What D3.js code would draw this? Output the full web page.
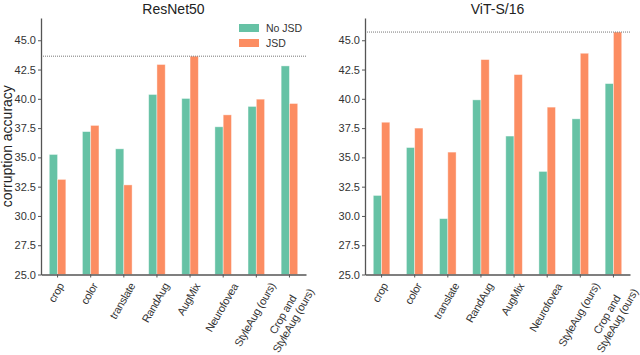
<!DOCTYPE html>
<html>
<body style="margin:0">
    <style>
        body {
            font-family: "Liberation Sans", Arial, sans-serif;
            background: #fff;
        }
        .tick text { fill: #333; }
    </style>
    <div class="container"></div>

    <script src="https://d3js.org/d3.v7.min.js"></script>

    <script>

var categories = ["crop", "color", "translate", "RandAug", "AugMix", "Neurofovea", "StyleAug (ours)", "Crop and|StyleAug (ours)"];
var series = ["No JSD", "JSD"];
var colors = ["#66c2a5", "#fc8d62"];

var resnetNoJsd = [35.25, 37.2, 35.73, 40.37, 40.03, 37.61, 39.35, 42.81];
var resnetJsd   = [33.12, 37.73, 32.65, 42.93, 43.64, 38.63, 39.97, 39.6];
var vitNoJsd = [31.75, 35.84, 29.77, 39.91, 36.82, 33.8, 38.29, 41.3];
var vitJsd   = [38.0, 37.5, 35.45, 43.35, 42.07, 39.29, 43.89, 45.7];

var yTicks = [25.0, 27.5, 30.0, 32.5, 35.0, 37.5, 40.0, 42.5, 45.0];

var width = 640,
    height = 355;

var svg = d3.select(".container")
    .append("svg")
    .attr("width", width)
    .attr("height", height);

var panels = [
  { title: "ResNet50", left: 41, right: 306, values: [resnetNoJsd, resnetJsd], legend: true },
  { title: "ViT-S/16", left: 365, right: 630, values: [vitNoJsd, vitJsd], legend: false }
];

var plotTop = 18, plotBottom = 274.5;
var angle = 60, rad = angle * Math.PI / 180;

panels.forEach(function(p) {
  var g = svg.append("g");

  var x = d3.scaleBand()
      .domain(categories)
      .range([p.left, p.right])
      .paddingInner(0)
      .paddingOuter(0);

  var y = d3.scaleLinear()
      .domain([25, 46.9])
      .range([plotBottom, plotTop]);

  var bw = x.bandwidth() * 0.25;

  categories.forEach(function(c, i) {
    var cx = x(c) + x.bandwidth() / 2;
    g.selectAll(null)
        .data(series)
      .enter().append("rect")
        .attr("x", function(d, j) { return cx - bw + j * bw; })
        .attr("y", function(d, j) { return y(p.values[j][i]); })
        .attr("width", bw)
        .attr("height", function(d, j) { return y(25) - y(p.values[j][i]); })
        .style("fill", function(d, j) { return colors[j]; })
        .style("stroke", "#fff")
        .style("stroke-opacity", 0.5)
        .style("stroke-width", 0.8);
  });

  // best value line
  var best = d3.max(p.values[0].concat(p.values[1]));
  g.append("line")
      .attr("x1", p.left)
      .attr("x2", p.right)
      .attr("y1", y(best))
      .attr("y2", y(best))
      .style("stroke", "#777")
      .style("stroke-width", 1)
      .style("stroke-dasharray", "1,1");

  var yAxis = g.append("g")
      .attr("transform", "translate(" + p.left + ",0)")
      .call(d3.axisLeft(y).tickValues(yTicks).tickFormat(d3.format(".1f")).tickSize(3).tickPadding(2).tickSizeOuter(0));
  yAxis.select(".domain").style("stroke", "#555").style("stroke-width", 1.3);
  yAxis.selectAll(".tick line").style("stroke", "#555");
  yAxis.selectAll(".tick text").style("font-size", "11px").style("font-family", "Liberation Sans");

  var xAxis = g.append("g")
      .attr("transform", "translate(0," + plotBottom + ")")
      .call(d3.axisBottom(x).tickSize(3).tickSizeOuter(0).tickFormat(""));
  xAxis.select(".domain").style("stroke", "#555").style("stroke-width", 1.3);
  xAxis.selectAll(".tick line").style("stroke", "#555");

  // rotated labels, centred on the tick like matplotlib (ha=center, va=top)
  xAxis.selectAll(".tick").each(function(d) {
    var lines = d.split("|");
    var fs = 11, lh = fs * 1.1;
    var t = d3.select(this).append("text")
        .attr("text-anchor", "middle")
        .style("font-size", fs + "px")
        .style("letter-spacing", "-0.3px")
        .style("fill", "#333")
        .style("font-family", "Liberation Sans");
    lines.forEach(function(l, k) {
      t.append("tspan")
          .attr("x", 0)
          .attr("y", fs * 0.75 + k * lh)
          .text(l);
    });
    var bb = t.node().getBBox();
    var w = bb.width, h = lines.length * lh;
    // block spans x [-w/2, w/2], y [0, h]; rotate by -angle
    var corners = [[-w / 2, 0], [w / 2, 0], [-w / 2, h], [w / 2, h]].map(function(c) {
      return [c[0] * Math.cos(rad) + c[1] * Math.sin(rad), -c[0] * Math.sin(rad) + c[1] * Math.cos(rad)];
    });
    var xs = corners.map(function(c) { return c[0]; }),
        ys = corners.map(function(c) { return c[1]; });
    var dx = -(d3.min(xs) + d3.max(xs)) / 2,
        dy = 7 - d3.min(ys);
    t.attr("transform", "translate(" + dx + "," + dy + ") rotate(" + (-angle) + ")");
  });

  g.append("text")
      .attr("x", (p.left + p.right) / 2)
      .attr("y", 14)
      .attr("text-anchor", "middle")
      .style("font-size", "14px")
      .style("fill", "#222")
      .text(p.title);

  if (p.legend) {
    var lg = g.append("g").attr("transform", "translate(239,24)");
    series.forEach(function(s, j) {
      lg.append("rect")
          .attr("x", 0)
          .attr("y", j * 15)
          .attr("width", 20)
          .attr("height", 8)
          .style("fill", colors[j]);
      lg.append("text")
          .attr("x", 27)
          .attr("y", j * 15 + 7.5)
          .style("font-size", "10.5px")
          .style("fill", "#333")
          .text(s);
    });
  }
});

svg.append("text")
    .attr("transform", "translate(12," + ((plotTop + plotBottom) / 2) + ") rotate(-90)")
    .attr("text-anchor", "middle")
    .style("font-size", "14px")
    .style("fill", "#222")
    .text("corruption accuracy");

    </script>
</body>
</html>
